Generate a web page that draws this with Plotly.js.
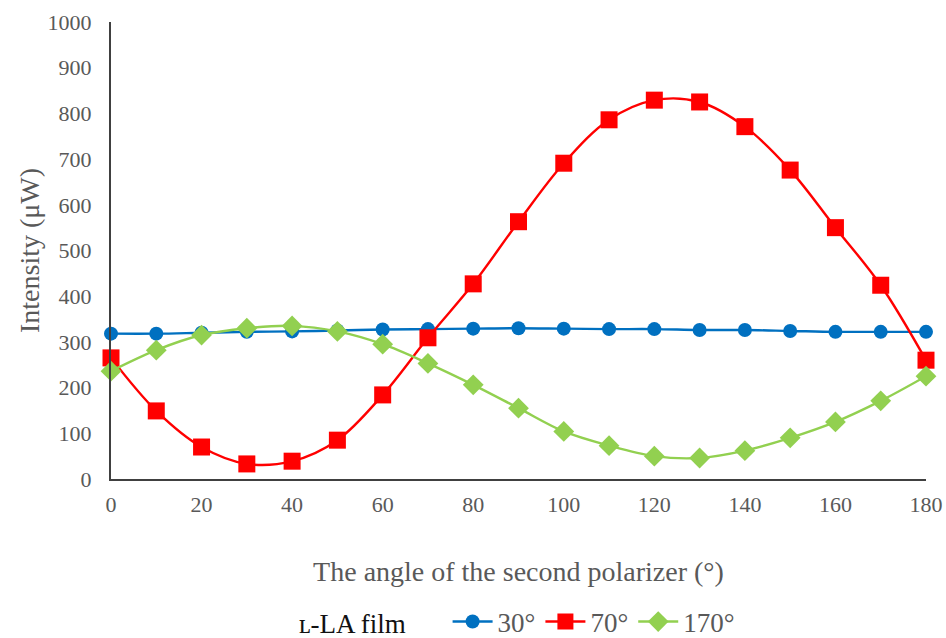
<!DOCTYPE html>
<html><head><meta charset="utf-8">
<script src="https://cdn.plot.ly/plotly-3.0.1.min.js"></script>
<style>body{margin:0;background:#fff}#c{width:946px;height:638px}</style>
</head><body><div id="c"></div>
<script>
const angles = [0,10,20,30,40,50,60,70,80,90,100,110,120,130,140,150,160,170,180];
const s30 = [318,318,320,322,323,325,327,328,329,330,329,328,328,326,326,324,322,322,322];
const s70 = [265,149,70,33,39,85,184,309,427,563,691,786,829,825,771,676,550,424,260];
const s170 = [236,282,315,330,335,323,295,253,206,155,104,73,50,46,62,90,125,171,225];
const names = ['30°','70°','170°'];
const xTicks = [0,20,40,60,80,100,120,140,160,180];
const yTicks = [0,100,200,300,400,500,600,700,800,900,1000];

const gray = '#595959';
const serif = '"Liberation Serif", serif';
const traces = [
 {x:angles,y:s30,name:names[0],mode:'lines+markers',line:{shape:'spline',color:'#0070C0',width:2.4},marker:{symbol:'circle',size:14,color:'#0070C0'},cliponaxis:false},
 {x:angles,y:s70,name:names[1],mode:'lines+markers',line:{shape:'spline',color:'#FF0000',width:2.4},marker:{symbol:'square',size:17,color:'#FF0000'},cliponaxis:false},
 {x:angles,y:s170,name:names[2],mode:'lines+markers',line:{shape:'spline',color:'#92D050',width:2.4},marker:{symbol:'diamond',size:16,color:'#92D050'},cliponaxis:false}
];
const layout = {
 width:946,height:638,
 margin:{l:111,r:20,t:22,b:159,autoexpand:false},
 paper_bgcolor:'#fff',plot_bgcolor:'#fff',
 font:{family:serif,color:gray,size:22},
 showlegend:true,
 xaxis:{range:[0,180],automargin:false,tickvals:xTicks,ticktext:xTicks.map(String),showgrid:false,zeroline:false,showline:true,linecolor:'#404040',linewidth:2,ticks:'',ticklabelstandoff:5,tickfont:{family:serif,size:22,color:gray},
   title:{text:'The angle of the second polarizer (°)',font:{family:serif,size:28,color:gray},standoff:45}},
 yaxis:{range:[0,1000],automargin:false,tickvals:yTicks,ticktext:yTicks.map(String),showgrid:false,zeroline:false,showline:true,linecolor:'#404040',linewidth:2,ticks:'',ticklabelstandoff:13,tickfont:{family:serif,size:22,color:gray},
   title:{text:'Intensity (μW)',font:{family:serif,size:28,color:gray},standoff:0}},
 legend:{orientation:'h',x:0.5,xanchor:'center',y:(479-622)/457,yanchor:'middle',font:{family:serif,size:27,color:gray},
   title:{text:'ʟ-LA film     ',font:{family:serif,size:27,color:'#111'},side:'left'},itemwidth:40,tracegroupgap:0}
};
Plotly.newPlot('c',traces,layout,{displayModeBar:false,staticPlot:true});
</script></body></html>
